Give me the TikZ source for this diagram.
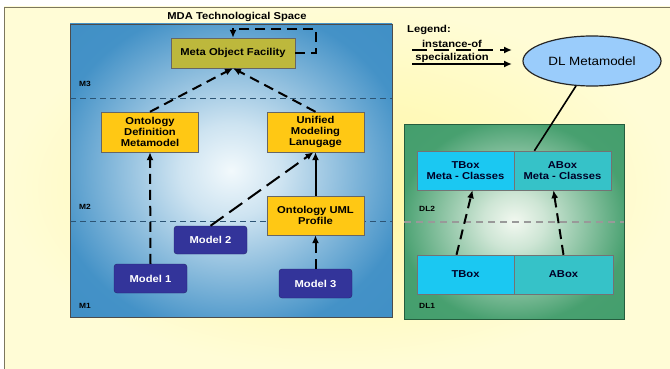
\documentclass[tikz,border=0pt]{standalone}
\usepackage{fontspec}
\setmainfont[FakeStretch=1.12]{Liberation Sans}
\usepackage{tikz}
\usetikzlibrary{arrows.meta,shapes.geometric}
\definecolor{BackYellow}{HTML}{FFF7A0}
\definecolor{BackPale}{HTML}{FFFCD6}
\definecolor{FrameLine}{HTML}{7C775E}
\definecolor{MdaBlue}{HTML}{3A8CC4}
\definecolor{MdaLight}{HTML}{F2F9FC}
\definecolor{DlGreen}{HTML}{3E9B68}
\definecolor{DlLight}{HTML}{F2F8F0}
\definecolor{MofOlive}{HTML}{BDB83C}
\definecolor{MetaGold}{HTML}{FFC814}
\definecolor{ModelBlue}{HTML}{33349A}
\definecolor{TBoxCyan}{HTML}{1BC8F2}
\definecolor{ABoxTeal}{HTML}{36C2C8}
\definecolor{EllBlue}{HTML}{9ACCFB}
\definecolor{LevelLine}{HTML}{2C5474}
\newcommand\boxfont{\fontsize{10}{11}\selectfont\bfseries}
\newcommand\levelfont{\fontsize{7.5}{8}\selectfont\bfseries}
\pgfdeclareradialshading{mdaglow}{\pgfpoint{0bp}{0bp}}{color(0bp)=(MdaLight);
  color(8bp)=(MdaLight!80!MdaBlue); color(28bp)=(MdaBlue!95!white); color(50bp)=(MdaBlue)}
\pgfdeclareradialshading{dlglow}{\pgfpoint{0bp}{0bp}}{color(0bp)=(DlLight);
  color(7bp)=(DlLight!80!DlGreen); color(26bp)=(DlGreen!95!white); color(50bp)=(DlGreen)}

\begin{document}
\begin{tikzpicture}[x=1pt,y=-1pt,>={Latex[length=8pt,width=7pt]},
    metabox/.style={draw=black!60,fill=MetaGold,font=\boxfont,align=center,
      minimum width=97pt,minimum height=40pt,inner sep=1pt},
    modelbox/.style={draw=ModelBlue!70!black,fill=ModelBlue,rounded corners=3pt,
      text=white,font=\boxfont,minimum width=73pt,minimum height=29pt},
    dlbox/.style={draw=black!55,font=\boxfont,text=black!85!blue,align=center,
      minimum width=97pt,minimum height=39pt,inner sep=1pt},
    level/.style={font=\levelfont,anchor=west,inner sep=0pt},
    inst/.style={->,line width=2pt,dash pattern=on 10pt off 6pt},
    spec/.style={->,line width=2pt}]
  \useasboundingbox (0,0) rectangle (670,369);
  % page and frame
  \fill[white] (0,0) rectangle (670,369);
  \shade[inner color=BackYellow,outer color=BackPale] (4,7) rectangle (670,369);
  \draw[FrameLine,line width=0.8pt] (670,7) -- (4,7) -- (4,369);

  % MDA technological space
  \node[draw=black!70,shading=mdaglow,minimum width=322pt,minimum height=293pt] (mda) at (231,170.5) {};
  \node[font=\boxfont] (mdatitle) at (237,17) {MDA Technological Space};
  \draw[LevelLine,line width=0.9pt,dash pattern=on 6pt off 4pt] (70,98) -- (392,98);
  \draw[LevelLine,line width=0.9pt,dash pattern=on 6pt off 4pt] (70,221) -- (392,221);
  \node[level] (m3) at (79,84) {M3};
  \node[level] (m2) at (79,207) {M2};
  \node[level] (m1) at (79,306) {M1};

  \node[metabox,fill=MofOlive,minimum width=124pt,minimum height=30pt] (mof) at (233,53) {Meta Object Facility};
  \node[metabox] (odm) at (150,132) {Ontology\\Definition\\Metamodel};
  \node[metabox] (uml) at (315.5,132) {Unified\\Modeling\\Lanugage};
  \node[metabox,minimum height=39pt] (profile) at (315.5,215.5) {Ontology UML\\Profile};
  \node[modelbox] (model1) at (150.5,278.5) {Model 1};
  \node[modelbox,minimum height=28pt] (model2) at (210.5,240) {Model 2};
  \node[modelbox] (model3) at (315.5,283.5) {Model 3};

  \draw[inst] (mof.east) -- ++(21,0) |- ([yshift=9pt]mof.north) -- (mof.north);
  \draw[inst] (odm.north) -- (mof.south);
  \draw[inst] (uml.north) -- (mof.south);
  \draw[inst] (model1.north) -- (odm.south);
  \draw[inst,dash pattern=on 16pt off 7pt] (model2.north) -- ([xshift=-2pt]uml.south);
  \draw[spec] (profile.north) -- (uml.south);
  \draw[inst] (model3.north) -- (profile.south);

  % legend
  \node[font=\boxfont,anchor=west,inner sep=0pt] (legend) at (407,30) {Legend:};
  \node[font=\boxfont,inner sep=0pt] (instlabel) at (452,44) {instance-of};
  \node[font=\boxfont,inner sep=0pt] (speclabel) at (452,58) {specialization};
  \coordinate (insta) at (412,50);
  \coordinate (instb) at (512,50);
  \coordinate (speca) at (412,64);
  \coordinate (specb) at (512,64);
  \draw[inst,dash pattern=on 15pt off 7pt] (insta) -- (instb);
  \draw[spec] (speca) -- (specb);

  % DL technological space
  \node[ellipse,draw=black!85,line width=1.2pt,fill=EllBlue,minimum width=138pt,
    minimum height=50pt,font=\fontsize{12}{13}\selectfont] (dlmm) at (592,61) {DL Metamodel};
  \node[draw=DlGreen!60!black,shading=dlglow,minimum width=220pt,minimum height=195pt] (dl) at (514,221.5) {};
  \draw[black!40,line width=1.4pt,dash pattern=on 7pt off 5pt] (404,222) -- (624,222);
  \node[level] (dl2) at (419,209) {DL2};
  \node[level] (dl1) at (419,306) {DL1};

  \node[dlbox,fill=TBoxCyan] (tboxm) at (465.5,170.5) {TBox\\Meta - Classes};
  \node[dlbox,fill=ABoxTeal] (aboxm) at (562.5,170.5) {ABox\\Meta - Classes};
  \node[dlbox,fill=TBoxCyan] (tbox) at (465.5,274.5) {TBox};
  \node[dlbox,fill=ABoxTeal,minimum width=99pt] (abox) at (563.5,274.5) {ABox};

  \draw[line width=1.6pt] (dlmm) -- (aboxm.145);
  \draw[inst] ([xshift=-9pt]tbox.north) -- ([xshift=7pt]tboxm.south);
  \draw[inst] (abox.north) -- ([xshift=-9pt]aboxm.south);
\end{tikzpicture}
\end{document}
